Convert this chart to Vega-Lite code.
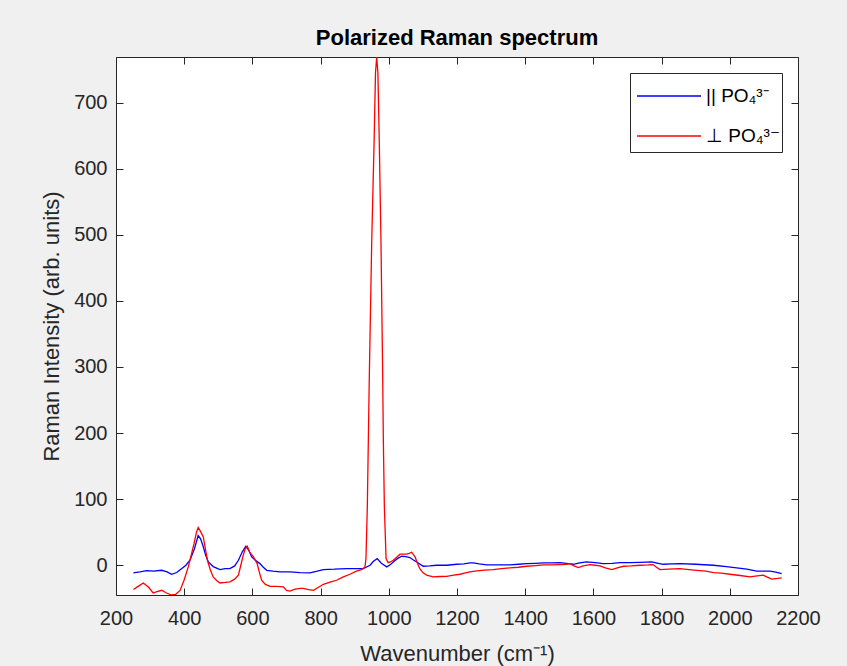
{
  "$schema": "https://vega.github.io/schema/vega-lite/v6.json",
  "autosize": {"type": "none"},
  "padding": {"left": 116, "top": 57, "right": 49, "bottom": 71},
  "width": 682,
  "height": 538,
  "background": "#f0f0f0",
  "title": {
    "text": "Polarized Raman spectrum",
    "font": "Liberation Sans",
    "fontSize": 22,
    "fontWeight": "bold",
    "color": "#000000",
    "anchor": "middle",
    "offset": 7
  },
  "config": {
    "font": "Liberation Sans",
    "view": {"fill": "#ffffff", "stroke": null},
    "axis": {
      "domainColor": "#262626",
      "domainWidth": 1,
      "tickColor": "#262626",
      "tickWidth": 1,
      "tickSize": -7,
      "labelColor": "#262626",
      "labelFont": "Liberation Sans",
      "labelFontSize": 20,
      "labelFlush": false,
      "labelOverlap": false,
      "titleColor": "#262626",
      "titleFont": "Liberation Sans",
      "titleFontSize": 22,
      "titleFontWeight": "normal",
      "grid": false
    }
  },
  "data": {
    "values": [
      {"series": "par", "w": 251, "v": -11.6}, {"series": "par", "w": 270, "v": -10}, {"series": "par", "w": 290, "v": -8},
      {"series": "par", "w": 310, "v": -9}, {"series": "par", "w": 334, "v": -7.6}, {"series": "par", "w": 350, "v": -10},
      {"series": "par", "w": 363, "v": -13.6}, {"series": "par", "w": 378, "v": -11}, {"series": "par", "w": 393, "v": -5},
      {"series": "par", "w": 405, "v": 0}, {"series": "par", "w": 417, "v": 7.6}, {"series": "par", "w": 430, "v": 25},
      {"series": "par", "w": 441, "v": 45}, {"series": "par", "w": 448, "v": 40}, {"series": "par", "w": 456, "v": 28},
      {"series": "par", "w": 463, "v": 15}, {"series": "par", "w": 471, "v": 5}, {"series": "par", "w": 485, "v": -2},
      {"series": "par", "w": 505, "v": -6.5}, {"series": "par", "w": 520, "v": -5}, {"series": "par", "w": 534, "v": -5},
      {"series": "par", "w": 548, "v": -1}, {"series": "par", "w": 559, "v": 7.6}, {"series": "par", "w": 570, "v": 20},
      {"series": "par", "w": 581, "v": 28.8}, {"series": "par", "w": 590, "v": 22}, {"series": "par", "w": 598, "v": 12.6},
      {"series": "par", "w": 610, "v": 7}, {"series": "par", "w": 622, "v": 2.5}, {"series": "par", "w": 632, "v": -3},
      {"series": "par", "w": 642, "v": -7.6}, {"series": "par", "w": 660, "v": -9}, {"series": "par", "w": 681, "v": -10},
      {"series": "par", "w": 710, "v": -10}, {"series": "par", "w": 740, "v": -11}, {"series": "par", "w": 769, "v": -11.6},
      {"series": "par", "w": 790, "v": -9}, {"series": "par", "w": 808, "v": -6.5}, {"series": "par", "w": 840, "v": -6},
      {"series": "par", "w": 876, "v": -5}, {"series": "par", "w": 925, "v": -5}, {"series": "par", "w": 945, "v": 0},
      {"series": "par", "w": 955, "v": 6}, {"series": "par", "w": 966, "v": 10}, {"series": "par", "w": 973, "v": 6},
      {"series": "par", "w": 979, "v": 2.5}, {"series": "par", "w": 994, "v": -2.5}, {"series": "par", "w": 1005, "v": 1},
      {"series": "par", "w": 1013, "v": 5}, {"series": "par", "w": 1025, "v": 10}, {"series": "par", "w": 1038, "v": 13.6},
      {"series": "par", "w": 1050, "v": 13}, {"series": "par", "w": 1062, "v": 11.6}, {"series": "par", "w": 1072, "v": 8},
      {"series": "par", "w": 1082, "v": 5}, {"series": "par", "w": 1101, "v": -1.5}, {"series": "par", "w": 1120, "v": -1},
      {"series": "par", "w": 1140, "v": 0}, {"series": "par", "w": 1170, "v": 0}, {"series": "par", "w": 1199, "v": 1.5},
      {"series": "par", "w": 1220, "v": 2}, {"series": "par", "w": 1238, "v": 3.5}, {"series": "par", "w": 1248, "v": 3.5},
      {"series": "par", "w": 1265, "v": 2}, {"series": "par", "w": 1287, "v": 0.5}, {"series": "par", "w": 1320, "v": 0.5},
      {"series": "par", "w": 1355, "v": 0.5}, {"series": "par", "w": 1380, "v": 1.5}, {"series": "par", "w": 1404, "v": 2.5},
      {"series": "par", "w": 1430, "v": 3}, {"series": "par", "w": 1453, "v": 3.5}, {"series": "par", "w": 1480, "v": 3.5},
      {"series": "par", "w": 1502, "v": 4}, {"series": "par", "w": 1520, "v": 3}, {"series": "par", "w": 1541, "v": 1.5},
      {"series": "par", "w": 1560, "v": 3.5}, {"series": "par", "w": 1580, "v": 5}, {"series": "par", "w": 1605, "v": 4},
      {"series": "par", "w": 1629, "v": 2.5}, {"series": "par", "w": 1655, "v": 3}, {"series": "par", "w": 1678, "v": 4},
      {"series": "par", "w": 1707, "v": 4}, {"series": "par", "w": 1737, "v": 4.5}, {"series": "par", "w": 1771, "v": 5},
      {"series": "par", "w": 1790, "v": 3}, {"series": "par", "w": 1805, "v": 1.5}, {"series": "par", "w": 1830, "v": 2},
      {"series": "par", "w": 1854, "v": 2.5}, {"series": "par", "w": 1900, "v": 1.5}, {"series": "par", "w": 1952, "v": 0},
      {"series": "par", "w": 1990, "v": -2}, {"series": "par", "w": 2020, "v": -4}, {"series": "par", "w": 2050, "v": -6},
      {"series": "par", "w": 2079, "v": -9}, {"series": "par", "w": 2100, "v": -9}, {"series": "par", "w": 2118, "v": -9},
      {"series": "par", "w": 2135, "v": -10.5}, {"series": "par", "w": 2152, "v": -12.6},

      {"series": "perp", "w": 251, "v": -36.8}, {"series": "perp", "w": 265, "v": -32}, {"series": "perp", "w": 280, "v": -26.8},
      {"series": "perp", "w": 295, "v": -33}, {"series": "perp", "w": 309, "v": -42}, {"series": "perp", "w": 320, "v": -40},
      {"series": "perp", "w": 334, "v": -37.9}, {"series": "perp", "w": 348, "v": -42}, {"series": "perp", "w": 363, "v": -45},
      {"series": "perp", "w": 375, "v": -44}, {"series": "perp", "w": 388, "v": -38}, {"series": "perp", "w": 400, "v": -22},
      {"series": "perp", "w": 412, "v": -2.5}, {"series": "perp", "w": 420, "v": 14}, {"series": "perp", "w": 429, "v": 33},
      {"series": "perp", "w": 436, "v": 50}, {"series": "perp", "w": 441, "v": 57}, {"series": "perp", "w": 447, "v": 52},
      {"series": "perp", "w": 456, "v": 43}, {"series": "perp", "w": 462, "v": 25}, {"series": "perp", "w": 468, "v": 7.6},
      {"series": "perp", "w": 476, "v": -6}, {"series": "perp", "w": 485, "v": -17.7}, {"series": "perp", "w": 495, "v": -23},
      {"series": "perp", "w": 505, "v": -26.8}, {"series": "perp", "w": 520, "v": -26}, {"series": "perp", "w": 534, "v": -25},
      {"series": "perp", "w": 548, "v": -21}, {"series": "perp", "w": 559, "v": -15}, {"series": "perp", "w": 566, "v": 0},
      {"series": "perp", "w": 573, "v": 15}, {"series": "perp", "w": 579, "v": 25}, {"series": "perp", "w": 585, "v": 28.8},
      {"series": "perp", "w": 592, "v": 20}, {"series": "perp", "w": 603, "v": 12.6}, {"series": "perp", "w": 614, "v": 2.5},
      {"series": "perp", "w": 620, "v": -10}, {"series": "perp", "w": 627, "v": -22.7}, {"series": "perp", "w": 638, "v": -29},
      {"series": "perp", "w": 652, "v": -31.8}, {"series": "perp", "w": 670, "v": -32}, {"series": "perp", "w": 691, "v": -32.8},
      {"series": "perp", "w": 700, "v": -38}, {"series": "perp", "w": 710, "v": -39}, {"series": "perp", "w": 725, "v": -36},
      {"series": "perp", "w": 740, "v": -35}, {"series": "perp", "w": 749, "v": -35}, {"series": "perp", "w": 765, "v": -37},
      {"series": "perp", "w": 779, "v": -38}, {"series": "perp", "w": 795, "v": -33}, {"series": "perp", "w": 808, "v": -28.8},
      {"series": "perp", "w": 830, "v": -25}, {"series": "perp", "w": 847, "v": -22.7}, {"series": "perp", "w": 865, "v": -18},
      {"series": "perp", "w": 886, "v": -13.6}, {"series": "perp", "w": 905, "v": -9}, {"series": "perp", "w": 920, "v": -6.5},
      {"series": "perp", "w": 930, "v": -3}, {"series": "perp", "w": 933, "v": 10}, {"series": "perp", "w": 937, "v": 88},
      {"series": "perp", "w": 940, "v": 189}, {"series": "perp", "w": 943, "v": 290}, {"series": "perp", "w": 950, "v": 492},
      {"series": "perp", "w": 957, "v": 643}, {"series": "perp", "w": 961, "v": 745}, {"series": "perp", "w": 964.5, "v": 769},
      {"series": "perp", "w": 968, "v": 745}, {"series": "perp", "w": 972, "v": 643}, {"series": "perp", "w": 977, "v": 492},
      {"series": "perp", "w": 982, "v": 290}, {"series": "perp", "w": 984, "v": 189}, {"series": "perp", "w": 987, "v": 88},
      {"series": "perp", "w": 992, "v": 10}, {"series": "perp", "w": 998, "v": 4}, {"series": "perp", "w": 1005, "v": 5},
      {"series": "perp", "w": 1013, "v": 7.6}, {"series": "perp", "w": 1023, "v": 12}, {"series": "perp", "w": 1033, "v": 16.7},
      {"series": "perp", "w": 1052, "v": 16.7}, {"series": "perp", "w": 1060, "v": 18}, {"series": "perp", "w": 1067, "v": 19.7},
      {"series": "perp", "w": 1077, "v": 12.6}, {"series": "perp", "w": 1084, "v": 3}, {"series": "perp", "w": 1091, "v": -5},
      {"series": "perp", "w": 1100, "v": -11}, {"series": "perp", "w": 1111, "v": -15}, {"series": "perp", "w": 1130, "v": -17.7},
      {"series": "perp", "w": 1150, "v": -17}, {"series": "perp", "w": 1170, "v": -16.7}, {"series": "perp", "w": 1190, "v": -15},
      {"series": "perp", "w": 1209, "v": -13.6}, {"series": "perp", "w": 1225, "v": -11.5}, {"series": "perp", "w": 1238, "v": -10},
      {"series": "perp", "w": 1258, "v": -8.6}, {"series": "perp", "w": 1280, "v": -7.5}, {"series": "perp", "w": 1306, "v": -6.5},
      {"series": "perp", "w": 1330, "v": -5}, {"series": "perp", "w": 1355, "v": -4}, {"series": "perp", "w": 1380, "v": -3},
      {"series": "perp", "w": 1404, "v": -1.5}, {"series": "perp", "w": 1430, "v": -0.5}, {"series": "perp", "w": 1453, "v": 0.5},
      {"series": "perp", "w": 1480, "v": 0.5}, {"series": "perp", "w": 1502, "v": 1}, {"series": "perp", "w": 1520, "v": 1.5},
      {"series": "perp", "w": 1531, "v": 2.5}, {"series": "perp", "w": 1543, "v": -1}, {"series": "perp", "w": 1556, "v": -3.5},
      {"series": "perp", "w": 1570, "v": -1}, {"series": "perp", "w": 1590, "v": 1}, {"series": "perp", "w": 1605, "v": 0},
      {"series": "perp", "w": 1619, "v": -1}, {"series": "perp", "w": 1635, "v": -4}, {"series": "perp", "w": 1654, "v": -6.5},
      {"series": "perp", "w": 1670, "v": -4}, {"series": "perp", "w": 1688, "v": -1.5}, {"series": "perp", "w": 1710, "v": -1},
      {"series": "perp", "w": 1737, "v": 0}, {"series": "perp", "w": 1760, "v": 0.5}, {"series": "perp", "w": 1775, "v": 1},
      {"series": "perp", "w": 1785, "v": -3}, {"series": "perp", "w": 1795, "v": -6.5}, {"series": "perp", "w": 1820, "v": -6},
      {"series": "perp", "w": 1854, "v": -5}, {"series": "perp", "w": 1880, "v": -6.5}, {"series": "perp", "w": 1903, "v": -7.6},
      {"series": "perp", "w": 1930, "v": -9}, {"series": "perp", "w": 1952, "v": -11}, {"series": "perp", "w": 1975, "v": -12},
      {"series": "perp", "w": 2000, "v": -13.6}, {"series": "perp", "w": 2030, "v": -15.5}, {"series": "perp", "w": 2059, "v": -17.7},
      {"series": "perp", "w": 2080, "v": -16}, {"series": "perp", "w": 2098, "v": -15}, {"series": "perp", "w": 2110, "v": -18},
      {"series": "perp", "w": 2123, "v": -21}, {"series": "perp", "w": 2140, "v": -20}, {"series": "perp", "w": 2152, "v": -19}
    ]
  },
  "layer": [
    {
      "mark": {"type": "line", "strokeWidth": 1.3, "clip": true},
      "encoding": {
        "x": {
          "field": "w",
          "type": "quantitative",
          "scale": {"domain": [200, 2200], "nice": false, "zero": false},
          "axis": {
            "orient": "bottom",
            "values": [200, 400, 600, 800, 1000, 1200, 1400, 1600, 1800, 2000, 2200],
            "format": "d",
            "labelPadding": 20,
            "title": "Wavenumber (cm⁻¹)",
            "titlePadding": 15
          }
        },
        "y": {
          "field": "v",
          "type": "quantitative",
          "scale": {"domain": [-45, 769], "nice": false, "zero": false},
          "axis": {
            "orient": "left",
            "values": [0, 100, 200, 300, 400, 500, 600, 700],
            "format": "d",
            "labelPadding": 16,
            "title": "Raman Intensity (arb. units)",
            "titlePadding": 10
          }
        },
        "color": {
          "field": "series",
          "type": "nominal",
          "scale": {"domain": ["par", "perp"], "range": ["#0000ff", "#ff0000"]},
          "legend": {
            "orient": "top-right",
            "offset": 16,
            "title": null,
            "labelExpr": "datum.label == 'par' ? '|| PO₄³⁻' : '⊥ PO₄³⁻'",
            "symbolType": "M-2,0H2",
            "symbolSize": 1024,
            "symbolOffset": 16,
            "symbolStrokeWidth": 1.5,
            "labelOffset": 20,
            "labelFont": "Liberation Sans",
            "labelFontSize": 19,
            "labelColor": "#000000",
            "strokeColor": "#262626",
            "fillColor": "#ffffff",
            "padding": 6,
            "rowPadding": 13
          }
        }
      }
    },
    {
      "mark": {"type": "line", "strokeOpacity": 0},
      "encoding": {
        "x": {
          "field": "w",
          "type": "quantitative",
          "axis": {
            "orient": "top",
            "values": [200, 400, 600, 800, 1000, 1200, 1400, 1600, 1800, 2000, 2200],
            "labels": false,
            "title": null
          }
        },
        "y": {
          "field": "v",
          "type": "quantitative",
          "axis": {
            "orient": "right",
            "values": [0, 100, 200, 300, 400, 500, 600, 700],
            "labels": false,
            "title": null
          }
        }
      }
    }
  ],
  "resolve": {"axis": {"x": "independent", "y": "independent"}}
}
